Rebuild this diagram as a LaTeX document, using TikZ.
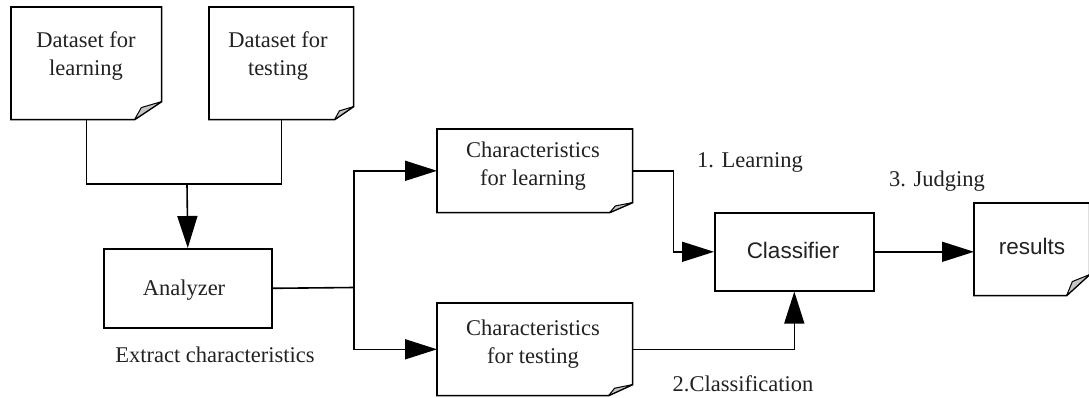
\documentclass[tikz,border=0pt]{standalone}
\usepackage{fontspec}
\setmainfont{Liberation Serif}
\newfontfamily\sansf{Liberation Sans}
\usetikzlibrary{arrows.meta,calc}
\definecolor{foldgray}{HTML}{C4C4C4}
\definecolor{txtcol}{HTML}{222222}
\newcommand\notebox[3]{%
  \draw[fill=white] (#1.north west) -- (#1.north east) -- ($(#1.south east)+(0,-#3)$)
     -- ($(#1.south east)+(-#2,0)$) -- (#1.south west) -- cycle;
  \draw[fill=foldgray, line width=1pt, line join=round]
     ($(#1.south east)+(-#2,0)$) -- ($(#1.south east)+(-0.75*#2,-0.67*#3)$)
     -- ($(#1.south east)+(0,-#3)$) -- cycle;
}
\begin{document}
\begin{tikzpicture}[x=1pt,y=-1pt,line width=1.6pt,
  boxshape/.style={draw=none,inner sep=0pt,anchor=north west,minimum width=#1},
  plainbox/.style={draw,inner sep=0pt,anchor=north west},
  txt/.style={font=\fontsize{22.5}{28}\selectfont,text=txtcol,align=center,inner sep=0pt},
  stxt/.style={font=\sansf\fontsize{22.5}{28}\selectfont,text=txtcol,inner sep=0pt},
  arr/.style={-{Triangle[length=32pt,width=20pt]}}]
\useasboundingbox (0,0) rectangle (1089,398);
\fill[white] (0,0) rectangle (1089,398);
% boxes
\node[boxshape=149pt,minimum height=111pt] (dl) at (11,7) {};
\node[boxshape=143pt,minimum height=111pt] (dt) at (209,7) {};
\node[plainbox,minimum width=168pt,minimum height=79pt] (an) at (103,248) {};
\node[boxshape=194pt,minimum height=82pt] (cl) at (437,129) {};
\node[boxshape=194pt,minimum height=91pt] (ct) at (437,303) {};
\node[plainbox,minimum width=159pt,minimum height=78pt] (cf) at (714,212) {};
\node[boxshape=114pt,minimum height=91pt] (rs) at (974,203) {};
\notebox{dl}{27}{18}
\notebox{dt}{19}{13}
\notebox{cl}{23}{10}
\notebox{ct}{24}{11}
\notebox{rs}{23}{21}
% texts
\node[txt] (dlt) at (86,55.8) {Dataset for\\learning};
\node[txt] (dtt) at (278,56) {Dataset for\\testing};
\node[txt,anchor=base] (ant) at (184,295) {Analyzer};
\node[txt,anchor=base] (ext) at (215,362) {Extract characteristics};
\node[txt] (clt) at (533,165.8) {Characteristics\\for learning};
\node[txt] (ctt) at (533,344) {Characteristics\\for testing};
\node[stxt,anchor=base] (cft) at (793,258) {Classifier};
\node[stxt,anchor=base] (rst) at (1032,254) {results};
\node[txt,anchor=base] (l1) at (750,168) {1. Learning};
\node[txt,anchor=base] (l3) at (937,186) {3. Judging};
\node[txt,anchor=base] (l2) at (743,391) {2.Classification};
% connectors
\coordinate (j1) at (187,184);
\coordinate (j2) at (354,287.5);
\draw (dl.south) -- (dl.south |- j1) -- (dt.south |- j1) -- (dt.south);
\draw[arr] (j1) -- (an.north);
\draw (an.east) -- (j2);
\draw[arr] (j2) |- (cl.west);
\draw[arr] (j2) |- (ct.west);
\draw[arr] (cl.east) -- ++(41,0) |- (cf.west);
\draw[arr] (ct.east) -| (cf.south);
\draw[arr] (cf.east) -- (cf.east -| rs.west);
\end{tikzpicture}
\end{document}
